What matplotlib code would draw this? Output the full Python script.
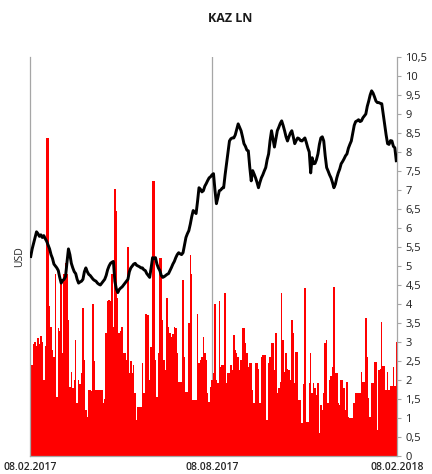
import matplotlib
matplotlib.use("Agg")
import matplotlib.pyplot as plt
import numpy as np

# ---- data ----
price = [
    5.25, 5.45, 5.6, 5.75, 5.9, 5.85, 5.78, 5.82, 5.75, 5.8,
    5.72, 5.65, 5.55, 5.45, 5.3, 5.2, 5.05, 5.0, 4.95, 4.88,
    4.7, 4.55, 4.62, 4.65, 4.72, 5.1, 5.45, 5.3, 5.07, 4.95,
    4.85, 4.8, 4.65, 4.55, 4.58, 4.6, 4.65, 4.85, 4.95, 4.85,
    4.78, 4.75, 4.7, 4.65, 4.62, 4.6, 4.55, 4.52, 4.5, 4.55,
    4.6, 4.65, 4.75, 4.9, 5.0, 5.07, 5.1, 5.12, 4.6, 4.4,
    4.3, 4.38, 4.42, 4.45, 4.5, 4.55, 4.6, 4.65, 4.85, 4.95,
    5.0, 5.05, 5.07, 5.02, 5.0, 4.98, 4.95, 4.95, 4.9, 4.88,
    4.8, 4.75, 4.7, 4.95, 5.22, 5.2, 5.22, 5.05, 4.95, 4.88,
    4.75, 4.7, 4.72, 4.75, 4.78, 4.8, 4.88, 4.96, 5.05, 5.12,
    5.22, 5.3, 5.35, 5.32, 5.3, 5.35, 5.55, 5.75, 5.85, 5.93,
    6.1, 6.3, 6.46, 6.42, 6.38, 6.7, 7.06, 7.02, 6.95, 6.98,
    7.1, 7.17, 7.25, 7.32, 7.35, 7.4, 7.43, 7.0, 6.64, 6.8,
    6.98, 7.0, 7.05, 7.06, 7.4, 7.69, 8.0, 8.29, 8.35, 8.37,
    8.37, 8.45, 8.6, 8.74, 8.65, 8.56, 8.4, 8.22, 8.15, 8.05,
    8.03, 7.6, 7.24, 7.51, 7.42, 7.32, 7.2, 7.06, 7.2, 7.32,
    7.4, 7.5, 7.59, 7.8, 7.95, 8.3, 8.56, 8.35, 8.13, 8.35,
    8.56, 8.65, 8.75, 8.82, 8.7, 8.56, 8.4, 8.29, 8.4, 8.5,
    8.56, 8.4, 8.22, 8.3, 8.37, 8.35, 8.3, 8.29, 8.33, 8.37,
    8.25, 8.11, 8.0, 7.45, 7.85, 7.69, 7.7, 7.8, 7.95, 8.2,
    8.37, 8.4, 8.29, 7.9, 7.59, 7.5, 7.4, 7.32, 7.2, 7.06,
    7.15, 7.32, 7.45, 7.55, 7.69, 7.75, 7.82, 7.9, 7.95, 8.1,
    8.2, 8.29, 8.5, 8.7, 8.8, 8.82, 8.85, 8.8, 8.82, 8.9,
    8.95, 9.0, 9.2, 9.34, 9.5, 9.61, 9.55, 9.45, 9.34, 9.3,
    9.3, 9.28, 9.27, 9.0, 8.74, 8.45, 8.22, 8.2, 8.3, 8.29,
    8.15, 8.11, 7.77,
]

volume = [
    2.35, 2.4, 2.95, 3.0, 2.9, 3.1, 2.95, 3.15, 3.0, 2.0,
    2.9, 8.37, 8.37, 3.96, 3.39, 2.78, 2.6, 4.8, 1.55, 3.36,
    3.3, 4.54, 2.7, 4.8, 5.07, 4.8, 3.57, 1.81, 2.2, 1.8,
    2.0, 3.04, 1.39, 2.0, 1.9, 2.18, 3.9, 2.52, 1.21, 1.02,
    1.73, 1.75, 1.7, 4.0, 2.5, 1.73, 1.73, 1.75, 1.73, 1.73,
    1.39, 1.5, 3.23, 4.09, 4.1, 4.09, 4.8, 3.39, 7.03, 6.46,
    4.17, 3.23, 3.3, 3.39, 2.7, 2.7, 2.52, 5.49, 2.18, 2.5,
    2.18, 2.39, 1.65, 0.94, 1.29, 1.29, 1.29, 2.44, 1.65, 3.75,
    3.75, 3.7, 2.0, 2.86, 7.24, 7.24, 2.52, 1.55, 2.7, 5.22,
    5.22, 3.57, 2.52, 2.26, 4.17, 3.39, 3.23, 3.12, 3.2, 3.39,
    3.36, 2.7, 1.94, 1.94, 1.94, 4.62, 2.6, 1.68, 1.68, 3.49,
    5.28, 4.8, 1.47, 1.47, 1.47, 3.75, 2.44, 2.52, 2.6, 3.12,
    2.7, 2.52, 1.65, 1.42, 1.81, 2.0, 2.18, 4.0, 2.0, 1.92,
    4.09, 2.34, 2.39, 2.39, 4.28, 1.92, 2.18, 2.18, 2.39, 2.26,
    3.18, 2.8, 2.7, 2.6, 2.26, 2.52, 3.36, 3.36, 2.97, 2.7,
    2.34, 2.44, 2.44, 1.73, 1.39, 2.44, 2.44, 2.3, 1.39, 2.6,
    2.65, 2.65, 2.65, 0.94, 2.44, 2.6, 2.97, 2.97, 2.26, 3.23,
    1.65, 1.8, 1.94, 4.28, 3.04, 2.2, 2.7, 2.3, 2.26, 2.0,
    3.57, 3.23, 1.92, 2.73, 2.73, 1.47, 1.47, 0.87, 1.9, 4.41,
    0.89, 0.89, 1.92, 2.7, 1.65, 1.92, 1.8, 1.6, 1.92, 0.6,
    1.34, 1.21, 1.65, 2.97, 3.04, 1.39, 2.0, 2.1, 2.34, 4.44,
    2.18, 2.18, 1.39, 1.34, 2.0, 2.0, 1.8, 1.21, 1.94, 1.02,
    1.0, 1.0, 1.0, 1.4, 1.65, 1.65, 1.65, 1.65, 2.2, 1.94,
    1.94, 3.62, 2.6, 1.52, 1.02, 1.92, 1.92, 2.47, 2.47, 0.68,
    2.26, 2.3, 3.52, 2.36, 2.36, 1.73, 2.2, 1.73, 1.85, 1.85,
    2.34, 1.85, 3.0,
]

date_labels = ["08.02.2017", "08.08.2017", "08.02.2018"]
date_pos = [0, 125, 252]
y_ticks = [i * 0.5 for i in range(22)]
title = "KAZ LN"
ylabel = "USD"

# ---- plot ----
fig = plt.figure(figsize=(4.32, 4.74), dpi=100)
ax = fig.add_axes([30 / 432, 18 / 474, 367 / 432, 399 / 474])

x = np.arange(len(volume))
ax.bar(x, volume, width=1.0, color="#ff0000", linewidth=0, zorder=2)
ax.plot(np.arange(len(price)), price, color="black", linewidth=2.1, zorder=3)

ax.set_xlim(-0.5, len(volume) - 0.5)
ax.set_ylim(0, 10.5)

# vertical grid line at middle date
ax.axvline(date_pos[1], color="#a6a6a6", linewidth=0.9, zorder=1)

ax.spines["top"].set_visible(False)
for s in ["left", "right", "bottom"]:
    ax.spines[s].set_color("#a6a6a6")
    ax.spines[s].set_linewidth(0.9)

ax.yaxis.tick_right()
ax.set_yticks(y_ticks)
ax.set_yticklabels([("%g" % v).replace(".", ",") for v in y_ticks],
                   fontsize=8, color="#1f1f1f", family="Open Sans")
ax.tick_params(axis="y", direction="out", length=3, color="#a6a6a6", pad=3)

ax.set_xticks([-0.5, date_pos[1], len(volume) - 0.5])
ax.set_xticklabels(date_labels, fontsize=7.5, color="#262626",
                   family="Open Sans", fontweight="semibold")
ax.tick_params(axis="x", length=0, pad=4)

fig.text(20 / 432, 1 - 257 / 474, ylabel, rotation=90, ha="center", va="center",
         fontsize=7.5, color="#262626", family="Open Sans")
fig.text(230 / 432, 1 - 19 / 474, title, ha="center", va="center",
         fontsize=9, fontweight="bold", color="#1a1a1a", family="Open Sans")

fig.savefig("out.png", dpi=100)
